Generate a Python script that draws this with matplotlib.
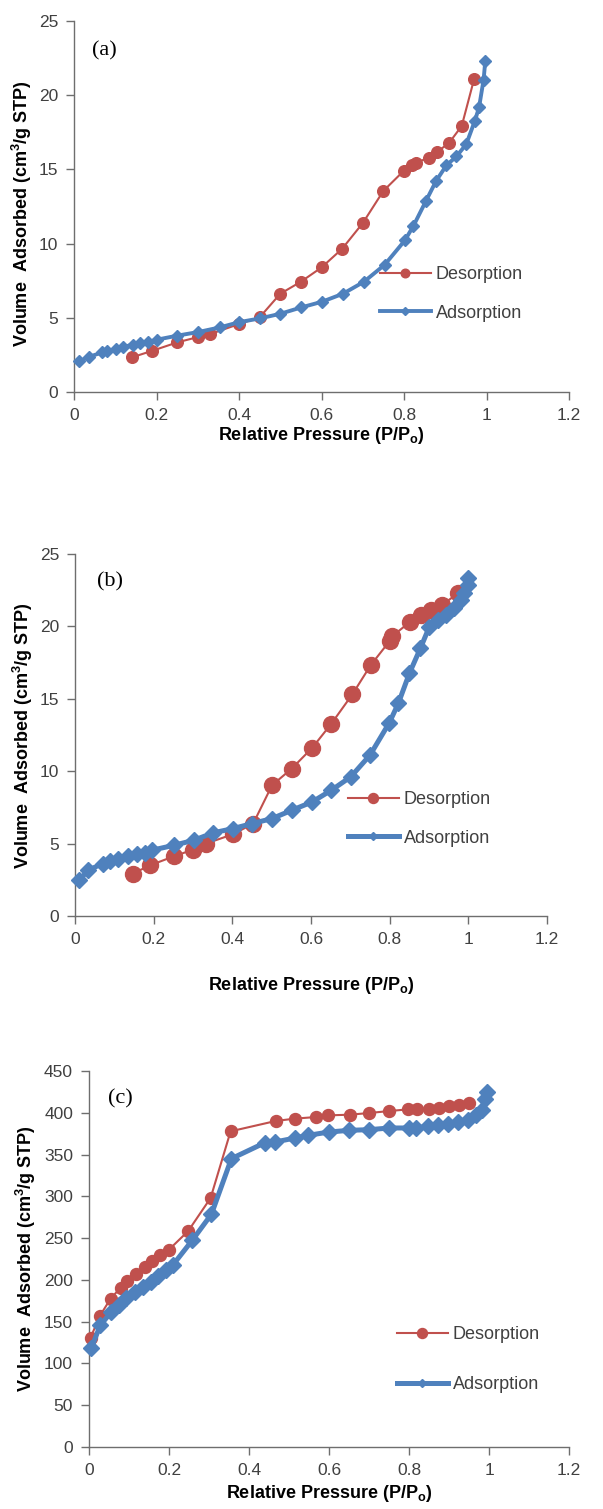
import numpy as np
import matplotlib
matplotlib.use('Agg')
import matplotlib.pyplot as plt
from matplotlib.lines import Line2D

plt.rcParams['font.family'] = ['Liberation Sans', 'DejaVu Sans']
plt.rcParams['mathtext.fontset'] = 'custom'
plt.rcParams['mathtext.rm'] = 'Liberation Sans'
plt.rcParams['mathtext.bf'] = 'Liberation Sans:bold'

# (a) isotherm
a_des_x = [0.14, 0.19, 0.25, 0.30, 0.33, 0.40, 0.45, 0.50, 0.55, 0.60, 0.65,
           0.70, 0.75, 0.80, 0.82, 0.83, 0.86, 0.88, 0.91, 0.94, 0.97]
a_des_y = [2.33, 2.78, 3.34, 3.70, 3.90, 4.58, 5.03, 6.62, 7.43, 8.39, 9.65,
           11.38, 13.55, 14.92, 15.33, 15.44, 15.80, 16.16, 16.81, 17.93, 21.09]
a_ads_x = [0.011, 0.036, 0.068, 0.079, 0.101, 0.119, 0.142, 0.160, 0.180, 0.200,
           0.249, 0.301, 0.353, 0.401, 0.451, 0.500, 0.551, 0.601, 0.652, 0.703,
           0.753, 0.802, 0.823, 0.853, 0.878, 0.903, 0.927, 0.951, 0.972, 0.982,
           0.993, 0.997]
a_ads_y = [2.06, 2.36, 2.67, 2.74, 2.90, 3.03, 3.19, 3.30, 3.37, 3.52,
           3.79, 4.04, 4.35, 4.71, 4.96, 5.27, 5.70, 6.08, 6.62, 7.43,
           8.57, 10.21, 11.20, 12.86, 14.23, 15.28, 15.87, 16.70, 18.29, 19.19,
           21.05, 22.29]

# (b) isotherm
b_des_x = [0.147, 0.191, 0.251, 0.301, 0.333, 0.402, 0.453, 0.501, 0.551, 0.603,
           0.652, 0.705, 0.752, 0.800, 0.807, 0.852, 0.879, 0.905, 0.933, 0.973]
b_des_y = [2.93, 3.50, 4.12, 4.59, 5.00, 5.65, 6.38, 9.03, 10.18, 11.61,
           13.29, 15.30, 17.33, 18.99, 19.33, 20.32, 20.78, 21.13, 21.47, 22.28]
b_ads_x = [0.010, 0.034, 0.070, 0.089, 0.110, 0.136, 0.157, 0.178, 0.195, 0.251,
           0.302, 0.351, 0.402, 0.450, 0.501, 0.551, 0.603, 0.652, 0.701, 0.750,
           0.799, 0.822, 0.850, 0.878, 0.901, 0.922, 0.943, 0.964, 0.981, 0.990,
           0.998, 1.000]
b_ads_y = [2.47, 3.16, 3.62, 3.78, 3.96, 4.12, 4.26, 4.35, 4.54, 4.88,
           5.23, 5.74, 6.04, 6.38, 6.73, 7.30, 7.88, 8.69, 9.61, 11.11,
           13.34, 14.68, 16.75, 18.48, 19.98, 20.44, 20.78, 21.29, 21.82, 22.28,
           22.86, 23.32]

# (c) isotherm
c_des_x = [0.004, 0.027, 0.054, 0.079, 0.096, 0.118, 0.139, 0.158, 0.177, 0.200,
           0.248, 0.304, 0.354, 0.467, 0.515, 0.567, 0.598, 0.652, 0.700, 0.751,
           0.798, 0.819, 0.851, 0.875, 0.900, 0.925, 0.950]
c_des_y = [130.9, 156.8, 177.5, 190.7, 198.7, 207.4, 215.4, 222.2, 230.2, 236.2,
           258.5, 298.0, 377.8, 390.2, 393.0, 394.9, 396.9, 397.7, 399.7, 402.1,
           404.1, 404.1, 404.9, 406.1, 407.7, 409.7, 411.7]
c_ads_x = [0.006, 0.028, 0.056, 0.075, 0.093, 0.114, 0.135, 0.154, 0.173, 0.193,
           0.209, 0.258, 0.306, 0.356, 0.440, 0.465, 0.515, 0.548, 0.600, 0.651,
           0.701, 0.751, 0.801, 0.817, 0.848, 0.873, 0.898, 0.923, 0.948, 0.967,
           0.982, 0.990, 0.994]
c_ads_y = [118.5, 145.6, 161.6, 169.5, 178.7, 185.5, 191.5, 197.5, 204.3, 212.2,
           217.4, 247.3, 278.5, 345.1, 364.2, 365.0, 369.8, 373.0, 377.0, 379.0,
           379.8, 381.8, 381.8, 381.8, 383.8, 385.0, 387.0, 389.0, 391.0, 396.9,
           402.9, 416.9, 424.9]

x_ticks = [0, 0.2, 0.4, 0.6, 0.8, 1.0, 1.2]
x_ticklabels = ['0', '0.2', '0.4', '0.6', '0.8', '1', '1.2']
y_ticks_ab = [0, 5, 10, 15, 20, 25]
y_ticks_c = [0, 50, 100, 150, 200, 250, 300, 350, 400, 450]
series_names = ['Desorption', 'Adsorption']
panel_names = ['(a)', '(b)', '(c)']

RED = '#C0504D'
BLUE = '#4F81BD'
AXC = '#6e6e6e'
TXT = '#404040'

W, H = 603, 1509
fig = plt.figure(figsize=(W / 100, H / 100), dpi=100)


def px_axes(left, top, right, bottom):
    return fig.add_axes([left / W, 1 - bottom / H, (right - left) / W, (bottom - top) / H])


def fx(x):
    return x / W


def fy(y):
    return 1 - y / H


panels = [
    dict(box=(74, 21, 569, 392), des=(a_des_x, a_des_y), ads=(a_ads_x, a_ads_y),
         yt=y_ticks_ab, ylim=25, dms=8.4, dlw=1.5, ams=6.6, alw=2.8,
         leg=(380, 266, 1.2), lms=(6.2, 3.6), tag=(92, 51), ylab=(22, 214), xlab=435),
    dict(box=(75, 554, 547, 916), des=(b_des_x, b_des_y), ads=(b_ads_x, b_ads_y),
         yt=y_ticks_ab, ylim=25, dms=11.5, dlw=1.5, ams=8.5, alw=3.6,
         leg=(348, 791, 1.2), lms=(7.2, 4.2), tag=(97, 582), ylab=(23, 736), xlab=985),
    dict(box=(89, 1071, 569, 1447), des=(c_des_x, c_des_y), ads=(c_ads_x, c_ads_y),
         yt=y_ticks_c, ylim=450, dms=8.6, dlw=1.5, ams=8.5, alw=3.6,
         leg=(397, 1326, 1.85), lms=(7.2, 4.2), tag=(108, 1099), ylab=(26, 1259), xlab=1494),
]

for p, name in zip(panels, panel_names):
    ax = px_axes(*p['box'])
    ax.plot(*p['des'], color=RED, lw=p['dlw'], marker='o', ms=p['dms'],
            mec=RED, mfc=RED, zorder=3, clip_on=False)
    ax.plot(*p['ads'], color=BLUE, lw=p['alw'], marker='D', ms=p['ams'],
            mec=BLUE, mfc=BLUE, zorder=4, clip_on=False)

    ax.set_xlim(0, 1.2)
    ax.set_ylim(0, p['ylim'])
    ax.set_xticks(x_ticks)
    ax.set_xticklabels(x_ticklabels)
    ax.set_yticks(p['yt'])
    ax.set_yticklabels([str(v) for v in p['yt']])
    for s in ['top', 'right']:
        ax.spines[s].set_visible(False)
    for s in ['left', 'bottom']:
        ax.spines[s].set_color(AXC)
        ax.spines[s].set_linewidth(1.0)
    ax.tick_params(direction='out', length=5.5, width=1.0, color=AXC,
                   labelcolor=TXT, labelsize=12.5, pad=6)

    # legend with smaller markers than the plotted points
    h = [Line2D([], [], color=RED, lw=p['dlw'], marker='o', ms=p['lms'][0]),
         Line2D([], [], color=BLUE, lw=p['alw'], marker='D', ms=p['lms'][1])]
    lx, ly, sp = p['leg']
    fig.legend(h, series_names, loc='upper left', bbox_to_anchor=(fx(lx), fy(ly)),
               frameon=False, fontsize=13, handlelength=2.8, handletextpad=0.3,
               labelspacing=sp, borderpad=0, borderaxespad=0, labelcolor=TXT)

    fig.text(fx(p['tag'][0]), fy(p['tag'][1]), name, family='Liberation Serif',
             fontsize=16, ha='left', va='center', color='black')
    fig.text(fx(p['ylab'][0]), fy(p['ylab'][1]),
             r'Volume  Adsorbed (cm$^{\mathregular{3}}$/g STP)',
             rotation=90, ha='center', va='center', fontsize=13,
             fontweight='bold', color='black')
    cx = (p['box'][0] + p['box'][2]) / 2
    fig.text(fx(cx), fy(p['xlab']), r'Relative Pressure (P/P$_{\mathbf{o}}$)',
             ha='center', va='center', fontsize=13, fontweight='bold', color='black')

fig.savefig('out.png', dpi=100, facecolor='white')
